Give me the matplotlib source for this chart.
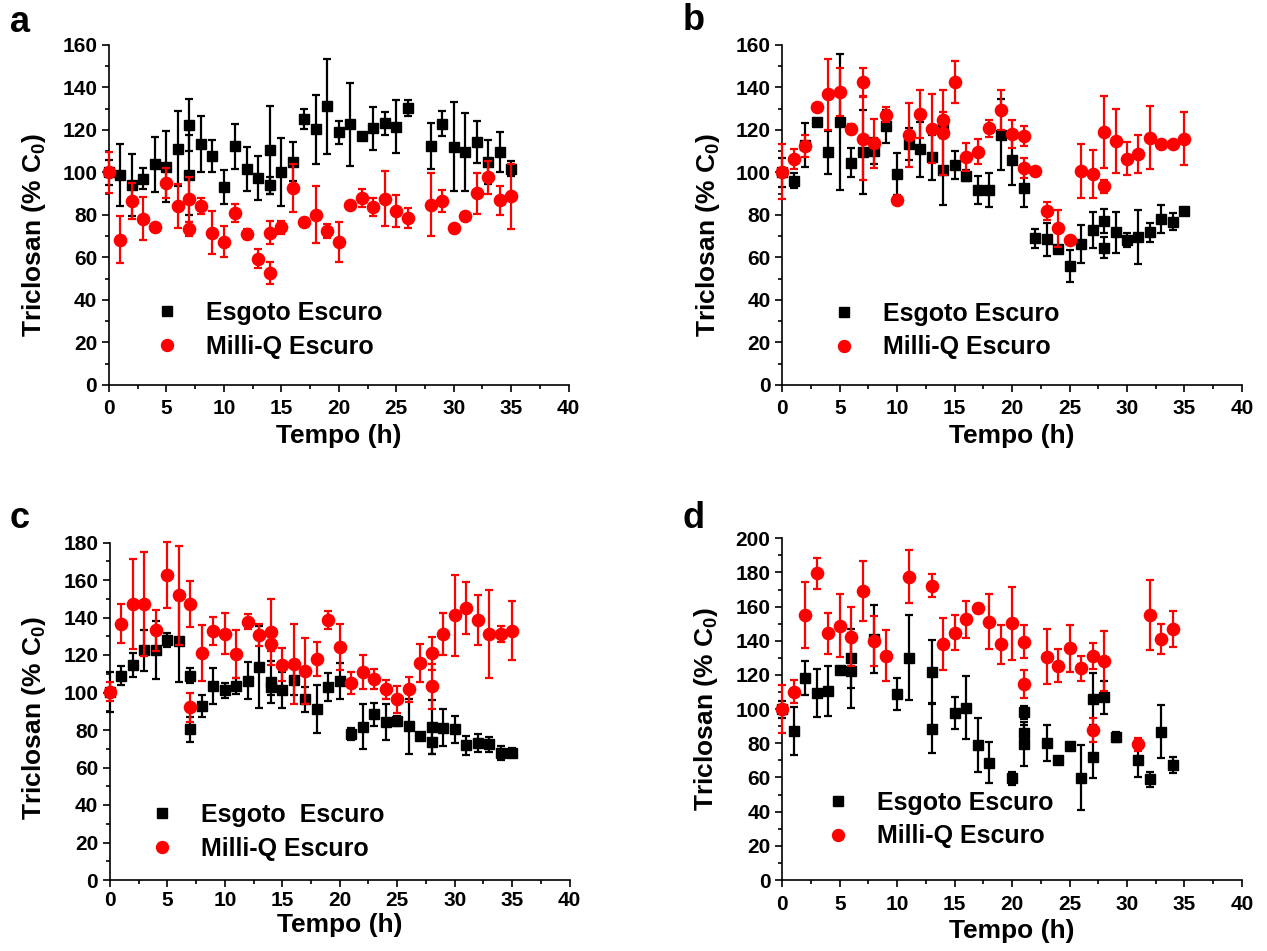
import matplotlib
matplotlib.use("Agg")
import matplotlib.pyplot as plt
from matplotlib.ticker import MultipleLocator
from matplotlib.lines import Line2D

plt.rcParams.update({
    "font.family": "Liberation Sans",
    "font.weight": "bold",
    "mathtext.fontset": "custom",
    "mathtext.rm": "Liberation Sans:bold",
    "mathtext.bf": "Liberation Sans:bold",
    "mathtext.it": "Liberation Sans:bold",
})

# ---------------- data: time (h), triclosan (% C0), std. deviation ----------------
# Panel a
a_esg_t = [0, 1, 2, 3, 4, 5, 6, 7, 7, 8, 9, 10, 11, 12, 13, 14, 14, 15, 16, 17, 18, 19,
           20, 21, 22, 23, 24, 25, 26, 28, 29, 30, 31, 32, 33, 34, 35]
a_esg_v = [100, 98.8, 94, 97, 103.8, 102.7, 111.2, 122.2, 98.8, 113.3, 107.6, 93.2, 112.3,
           101.8, 97.4, 110.7, 94, 100.4, 105.1, 125.2, 120.3, 131.1, 118.9, 122.7, 117.3,
           120.8, 123.1, 121.6, 130.4, 112.5, 123, 112.2, 109.6, 114.4, 105, 109.6, 101.8]
a_esg_e = [6, 14.6, 14.5, 5, 12.8, 16.6, 17.6, 12.3, 19, 13.3, 7.5, 8, 10.6, 10.3, 10.2,
           20.7, 4, 16, 9.3, 4.5, 16.2, 22.2, 5.3, 19.6, 0, 10.2, 5.3, 12.5, 3.9, 10.8,
           5.8, 20.9, 18.3, 10, 10.4, 9.5, 3.4]
a_mq_t = [0, 1, 2, 3, 4, 5, 6, 7, 7, 8, 9, 10, 11, 12, 13, 14, 14, 15, 16, 17, 18, 19,
          20, 21, 22, 23, 24, 25, 26, 28, 29, 30, 31, 32, 33, 34, 35]
a_mq_v = [100, 68.4, 86.6, 78.3, 74.5, 95.2, 84.1, 87.4, 73.4, 84.4, 71.7, 67.5, 80.8,
          70.9, 59.5, 71.7, 52.5, 74.2, 92.7, 76.9, 80.2, 72.5, 67.3, 84.9, 88, 83.9,
          87.7, 81.7, 78.6, 84.9, 86.6, 73.7, 79.5, 90.2, 97.7, 86.9, 88.8]
a_mq_e = [9.6, 11, 8.6, 10.2, 0, 7, 10.4, 10.6, 3.5, 3.7, 10.2, 7.4, 4.3, 2.4, 4.3, 5.3,
          5.2, 3.1, 11.4, 0, 13.5, 3.4, 9.2, 0, 4.4, 4.2, 13, 7.5, 4.7, 14.7, 5, 0, 0,
          9.6, 7.6, 6.7, 15.4]

# Panel b
b_esg_t = [0, 1, 2, 3, 4, 5, 6, 7, 8, 9, 10, 11, 12, 13, 14, 14, 15, 16, 17, 18, 19, 20,
           21, 22, 23, 24, 25, 26, 27, 28, 28, 29, 30, 31, 32, 33, 34, 35]
b_esg_v = [100, 96.2, 112.9, 123.8, 109.5, 123.6, 104.5, 109.5, 110.1, 121.7, 99.1, 113.4,
           110.9, 107.1, 101.2, 121, 103.4, 98.4, 91.8, 91.8, 117.8, 105.7, 92.7, 69,
           68.5, 63.8, 56.2, 66.4, 73.1, 77.2, 64.6, 71.8, 68.2, 69.8, 71.8, 78.1, 76.9,
           81.9]
b_esg_e = [7, 3.5, 10.5, 1.6, 10.2, 32, 6.8, 19.8, 6, 7.8, 9.9, 7.7, 12.8, 10.4, 16.6, 5,
           6.5, 2.6, 6.6, 8, 16.6, 11.8, 8.8, 4.3, 7.8, 0, 7.5, 8.8, 8.4, 5.8, 4.9, 9.6,
           3.1, 12.7, 4.5, 6.4, 4.1, 0]
b_mq_t = [0, 1, 2, 3, 4, 5, 6, 7, 7, 8, 9, 10, 11, 12, 13, 14, 14, 15, 16, 17, 18, 19,
          20, 21, 21, 22, 23, 24, 25, 26, 27, 28, 28, 29, 30, 31, 32, 33, 34, 35]
b_mq_v = [100.4, 106.4, 112.6, 130.8, 136.8, 137.9, 120.5, 142.6, 115.9, 113.7, 127.2,
          87.1, 117.6, 127.4, 120.6, 124.7, 118.6, 142.6, 107.3, 109.8, 120.8, 129.4,
          118, 117.3, 102, 100.9, 82, 73.7, 68.2, 100.7, 99.3, 118.9, 93.6, 114.8, 106.4,
          108.7, 116.4, 113.3, 113.4, 115.8]
b_mq_e = [13.1, 4.7, 5.1, 0, 16.6, 11.2, 2.4, 6.8, 19.6, 11.7, 3.4, 0, 15, 11.4, 16.2, 4,
          20, 10, 6.4, 5.8, 3.9, 9.4, 6.5, 4.7, 4.7, 0, 4.3, 8.6, 0, 12.8, 11.4, 17, 3.1,
          14.9, 7.8, 9.1, 14.7, 0, 0, 12.5]

# Panel c
c_esg_t = [0, 1, 2, 3, 4, 5, 6, 7, 7, 8, 9, 10, 11, 12, 13, 14, 14, 15, 16, 17, 18, 19,
           20, 21, 22, 23, 24, 25, 26, 27, 28, 28, 29, 30, 31, 32, 33, 34, 35]
c_esg_v = [100.4, 109, 114.8, 122.5, 122.7, 128, 127.5, 109, 80.4, 93, 103.5, 101.2,
           103.5, 106.3, 113.8, 105.6, 102.8, 101.5, 106.7, 96.4, 91.2, 102.8, 106.1,
           77.9, 81.8, 88.4, 84.4, 84.8, 82.1, 76.8, 81.4, 73.4, 81.2, 80.4, 71.8, 73.2,
           72.5, 67.9, 67.9]
c_esg_e = [10.7, 5.2, 6.5, 11, 15.4, 3.8, 21.8, 4, 6.8, 5.8, 9.7, 4, 4.4, 9.9, 21.8, 11,
           4, 9.5, 8, 6.8, 13, 7.5, 9.8, 3, 12, 6, 9.6, 2.5, 14.7, 0, 14.4, 6, 9.8, 7.3,
           5.2, 4.7, 4, 3.7, 2.4]
c_mq_t = [0, 1, 2, 3, 4, 5, 6, 7, 7, 8, 9, 10, 11, 12, 13, 14, 14, 15, 16, 17, 18, 19,
          20, 21, 22, 23, 24, 25, 26, 27, 28, 28, 29, 30, 31, 32, 33, 34, 35]
c_mq_v = [100.4, 136.7, 147.2, 147.2, 133.2, 162.7, 151.8, 147.2, 92.1, 120.9, 133,
          131.4, 120.5, 137.8, 130.7, 132.3, 125.9, 114.8, 115.2, 111.6, 117.9, 138.7,
          124.4, 105.2, 110.8, 107.2, 101.7, 96.5, 101.7, 115.9, 120.9, 103.3, 131.2,
          141.2, 144.9, 138.7, 131.2, 131.2, 133]
c_mq_e = [5, 10.5, 24.2, 27.6, 11, 17.6, 26.4, 12.4, 7.7, 15, 7.4, 10.8, 13, 4, 6, 17.5,
          4, 8.9, 21.3, 17.5, 8.9, 4.9, 12.3, 6, 9, 5.2, 5, 7.2, 6.8, 10.2, 8.9, 12, 11,
          21.5, 13.9, 13.5, 23.4, 4.5, 15.6]

# Panel d
d_esg_t = [0, 1, 2, 3, 4, 5, 6, 6, 8, 10, 11, 13, 13, 15, 16, 17, 18, 20, 21, 21, 21, 23,
           24, 25, 26, 27, 27, 28, 29, 31, 32, 33, 34]
d_esg_v = [100, 87.2, 118.4, 109.3, 110.6, 122.9, 122.5, 129.8, 140.9, 108.9, 130.1, 122,
           88.6, 97.9, 100.9, 79, 68.7, 59.5, 98.1, 85.9, 79.6, 80.4, 70.2, 78.4, 59.9,
           106, 72.2, 106.9, 83.9, 70.2, 58.9, 86.8, 67.3]
d_esg_e = [5, 14.2, 10, 14, 14.4, 0, 21.8, 17.4, 19.8, 9.5, 24.9, 18.2, 14.3, 9.4, 18.5,
           15.8, 11.8, 4, 3.6, 5, 13, 10.6, 0, 0, 19.2, 15, 12.7, 9.8, 3, 10.2, 4.6, 15.6,
           4.5]
d_mq_t = [0, 1, 2, 3, 4, 5, 6, 7, 8, 9, 11, 13, 14, 15, 16, 17, 18, 19, 20, 21, 21, 23,
          24, 25, 26, 27, 27, 28, 31, 32, 33, 34]
d_mq_v = [100.1, 110.2, 155.1, 179.5, 144.4, 148.9, 142.4, 169.2, 139.9, 131.3, 177.6,
          172.3, 138, 144.8, 152.6, 159, 151.2, 138, 150.2, 139.5, 114.7, 130.7, 125.5,
          135.6, 123.9, 130.9, 87.8, 128.2, 79.4, 154.9, 141.1, 146.9]
d_mq_e = [14, 6.6, 19.5, 9, 12, 18.6, 17.4, 17.5, 14.9, 14.8, 15.4, 6.6, 15.2, 10.4, 10.9,
          2.5, 16, 11.3, 21.5, 9.5, 8.3, 16, 9.7, 13.8, 7.5, 7.6, 7, 17.5, 3.9, 20.5, 8.7,
          10.7]

esg_label = "Esgoto Escuro"
mq_label = "Milli-Q Escuro"

# ---------------- figure layout (pixel based) ----------------
W, H = 1267, 951
fig = plt.figure(figsize=(W / 100, H / 100), dpi=100)


def axes_px(x0, x1, y_top, y_bot):
    return fig.add_axes([x0 / W, 1 - y_bot / H, (x1 - x0) / W, (y_bot - y_top) / H])


def draw_panel(ax, esg, mq, ymax, esg_name, leg_xy, ylab_xy, xlab_y, xpad):
    ax.errorbar(esg[0], esg[1], yerr=esg[2], fmt="s", color="black", ms=7.5,
                capsize=3, elinewidth=1.6, capthick=1.6, clip_on=False, zorder=3)
    ax.errorbar(mq[0], mq[1], yerr=mq[2], fmt="o", color="red", ms=8.8,
                capsize=3, elinewidth=1.6, capthick=1.6, clip_on=False, zorder=4)

    ax.set_xlim(0, 40)
    ax.set_ylim(0, ymax)
    ax.xaxis.set_major_locator(MultipleLocator(5))
    ax.xaxis.set_minor_locator(MultipleLocator(2.5))
    ax.yaxis.set_major_locator(MultipleLocator(20))
    ax.yaxis.set_minor_locator(MultipleLocator(10))
    for s in ("top", "right"):
        ax.spines[s].set_visible(False)
    for s in ("left", "bottom"):
        ax.spines[s].set_linewidth(1.2)
    ax.tick_params(which="major", direction="out", length=5, width=1.2, labelsize=15)
    ax.tick_params(which="minor", direction="out", length=3, width=1.2)
    ax.tick_params(axis="y", which="major", pad=3.5)
    ax.tick_params(axis="x", which="major", pad=xpad)

    ax.set_xlabel("Tempo (h)", fontsize=19, fontweight="bold")
    ax.set_ylabel("Triclosan (% C$_0$)", fontsize=19, fontweight="bold")
    ax.xaxis.set_label_coords(0.5, xlab_y)
    ax.yaxis.set_label_coords(*ylab_xy)

    handles = [Line2D([], [], ls="none", marker="s", color="black", ms=7.3),
               Line2D([], [], ls="none", marker="o", color="red", ms=8.6)]
    ax.legend(handles, [esg_name, mq_label], loc="center left", bbox_to_anchor=leg_xy,
              frameon=False, borderpad=0, borderaxespad=0, handlelength=1.0,
              handletextpad=1.06, labelspacing=0.39,
              prop={"size": 18, "weight": "bold"})


ax_a = axes_px(109, 568.6, 45, 385)
ax_b = axes_px(782.3, 1241.9, 45, 385)
ax_c = axes_px(110, 569.5, 542.5, 880)
ax_d = axes_px(782.3, 1241.9, 538.3, 880)

draw_panel(ax_a, (a_esg_t, a_esg_v, a_esg_e), (a_mq_t, a_mq_v, a_mq_e), 160,
           esg_label, (0.098, 0.162), (-0.133, 0.44), -0.115, 5)
draw_panel(ax_b, (b_esg_t, b_esg_v, b_esg_e), (b_mq_t, b_mq_v, b_mq_e), 160,
           esg_label, (0.106, 0.160), (-0.131, 0.44), -0.115, 5)
draw_panel(ax_c, (c_esg_t, c_esg_v, c_esg_e), (c_mq_t, c_mq_v, c_mq_e), 180,
           "Esgoto  Escuro", (0.087, 0.142), (-0.135, 0.48), -0.098, 3)
draw_panel(ax_d, (d_esg_t, d_esg_v, d_esg_e), (d_mq_t, d_mq_v, d_mq_e), 200,
           esg_label, (0.095, 0.177), (-0.135, 0.5), -0.114, 6)

for letter, x, y in (("a", 10, 23), ("b", 683, 21), ("c", 10, 519), ("d", 683, 519)):
    fig.text(x / W, 1 - y / H, letter, fontsize=26, fontweight="bold",
             ha="left", va="center")

fig.savefig("out.png", dpi=100)
